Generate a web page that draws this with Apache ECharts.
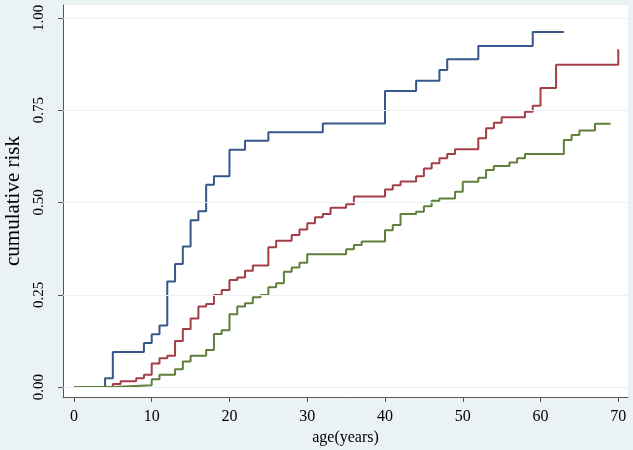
<!DOCTYPE html>
<html>
<head>
<meta charset="utf-8">
<script src="https://cdn.jsdelivr.net/npm/echarts@6/dist/echarts.min.js"></script>
<style>html,body{margin:0;padding:0;background:#eaf2f3;}#c{width:633px;height:450px;}</style>
</head>
<body>
<div id="c"></div>
<script>
const xTicks = [0, 10, 20, 30, 40, 50, 60, 70];
const yTicks = [0, 0.25, 0.5, 0.75, 1];

const blueAge = [0, 4, 5, 9, 10, 11, 12, 13, 14, 15, 16, 17, 18, 20, 22, 25, 32, 40, 44, 47, 48, 52, 59, 63];
const blueRisk = [0, 0.024, 0.095, 0.119, 0.143, 0.167, 0.286, 0.333, 0.381, 0.452, 0.476, 0.548, 0.571, 0.643, 0.667, 0.690, 0.714, 0.802, 0.830, 0.859, 0.888, 0.924, 0.962, 0.962];

const redAge = [0, 5, 6, 8, 9, 10, 11, 12, 13, 14, 15, 16, 17, 18, 19, 20, 21, 22, 23, 25, 26, 28, 29, 30, 31, 32, 33, 35, 36, 40, 41, 42, 44, 45, 46, 47, 48, 49, 52, 53, 54, 55, 58, 59, 60, 62, 70];
const redRisk = [0, 0.008, 0.016, 0.024, 0.033, 0.064, 0.078, 0.085, 0.125, 0.157, 0.186, 0.218, 0.225, 0.249, 0.263, 0.290, 0.297, 0.315, 0.329, 0.379, 0.396, 0.412, 0.427, 0.444, 0.460, 0.469, 0.486, 0.495, 0.516, 0.535, 0.547, 0.557, 0.571, 0.592, 0.606, 0.620, 0.631, 0.644, 0.674, 0.701, 0.716, 0.731, 0.746, 0.762, 0.810, 0.873, 0.915];

const greenAge = [0, 5, 10, 11, 13, 14, 15, 17, 18, 19, 20, 21, 22, 23, 24, 25, 26, 27, 28, 29, 30, 35, 36, 37, 40, 41, 42, 44, 45, 46, 47, 49, 50, 52, 53, 54, 56, 57, 58, 63, 64, 65, 67, 69];
const greenRisk = [0, 0.005, 0.021, 0.033, 0.048, 0.069, 0.085, 0.100, 0.144, 0.154, 0.197, 0.218, 0.227, 0.243, 0.249, 0.270, 0.281, 0.312, 0.324, 0.337, 0.360, 0.373, 0.385, 0.394, 0.425, 0.439, 0.469, 0.475, 0.490, 0.505, 0.511, 0.529, 0.556, 0.567, 0.588, 0.599, 0.608, 0.620, 0.631, 0.669, 0.683, 0.695, 0.713, 0.713];

const xTitle = 'age(years)';
const yTitle = 'cumulative risk';

function pairs(xs, ys) { return xs.map((x, i) => [x, ys[i]]); }

const font = 'Liberation Serif';
const chart = echarts.init(document.getElementById('c'), null, { renderer: 'canvas' });

function stepSeries(name, xs, ys, color) {
  return {
    name, type: 'line', step: 'end', data: pairs(xs, ys), showSymbol: false, symbol: 'none',
    lineStyle: { color, width: 2 }, z: 3, animation: false, silent: true
  };
}

chart.setOption({
  animation: false,
  backgroundColor: '#eaf2f3',
  grid: { left: 63, right: 5, top: 5, bottom: 53, show: true, backgroundColor: '#ffffff', borderWidth: 0,
    containLabel: false, outerBoundsMode: 'none' },
  xAxis: {
    type: 'value', min: -1.41, max: 71.25,
    name: xTitle, nameLocation: 'middle', nameGap: 30,
    nameTextStyle: { fontFamily: font, fontSize: 16, color: '#000' },
    axisLine: { show: true, onZero: false, lineStyle: { color: '#555', width: 1 } },
    axisTick: { show: true, length: 5, customValues: xTicks, lineStyle: { color: '#555' } },
    axisLabel: { customValues: xTicks, margin: 12, fontFamily: font, fontSize: 16, color: '#000' },
    splitLine: { show: false }
  },
  yAxis: {
    type: 'value', min: -0.027, max: 1.035,
    name: yTitle, nameLocation: 'middle', nameGap: 37,
    nameTextStyle: { fontFamily: font, fontSize: 21, color: '#000' },
    axisLine: { show: true, onZero: false, lineStyle: { color: '#555', width: 1 } },
    axisTick: { show: true, length: 5, customValues: yTicks, lineStyle: { color: '#555' } },
    axisLabel: { customValues: yTicks, rotate: 90, margin: 16, fontFamily: font, fontSize: 15, color: '#000',
      formatter: v => Number(v).toFixed(2) },
    splitLine: { show: false }
  },
  series: [
    {
      type: 'line', data: [], z: 1, silent: true,
      markLine: {
        silent: true, symbol: 'none', animation: false,
        label: { show: false },
        lineStyle: { color: '#eaf2f3', width: 1, type: 'solid' },
        data: yTicks.map(v => ({ yAxis: v }))
      }
    },
    stepSeries('blue', blueAge, blueRisk, '#35578a'),
    stepSeries('red', redAge, redRisk, '#a33e47'),
    stepSeries('green', greenAge, greenRisk, '#5f7f3b')
  ]
});
</script>
</body>
</html>
